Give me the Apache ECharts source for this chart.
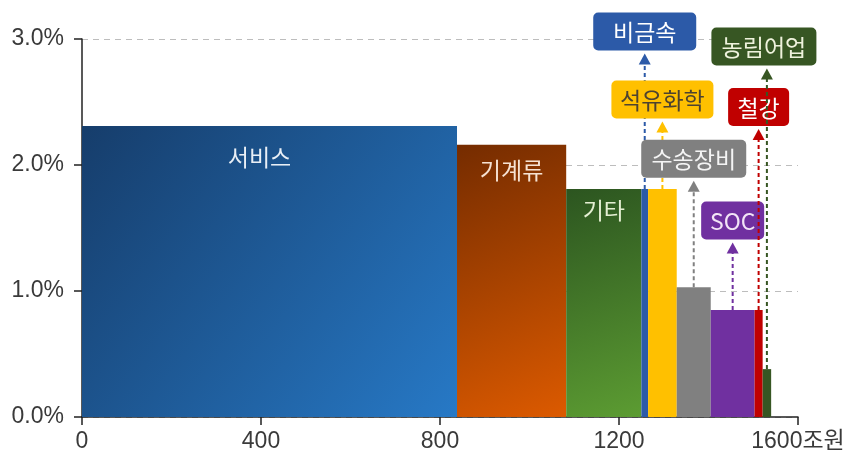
<!DOCTYPE html>
<html>
<head>
<meta charset="utf-8">
<script src="https://cdn.jsdelivr.net/npm/echarts@6/dist/echarts.min.js"></script>
<style>
  html, body { margin: 0; padding: 0; background: #fff; }
  #chart { width: 853px; height: 462px; }
</style>
</head>
<body>
<div id="chart"></div>
<script>
// 업종별 규모(조원)와 비율(%)
const categories = ['서비스', '기계류', '기타', '비금속', '석유화학', '수송장비', 'SOC', '철강', '농림어업'];
const sizes = [838, 244, 168, 15, 64, 76, 98, 18, 19];
const rates = [2.31, 2.16, 1.81, 1.81, 1.81, 1.03, 0.85, 0.85, 0.38];
const xTicks = [0, 400, 800, 1200, 1600];
const yTicks = [0, 1, 2, 3];

const G = echarts.graphic.LinearGradient;
const fills = [
  new G(0, 0, 1, 1, [{ offset: 0, color: '#163d6b' }, { offset: 1, color: '#2779c6' }]),
  new G(0, 0, 1, 1, [{ offset: 0, color: '#752c00' }, { offset: 1, color: '#dc5a00' }]),
  new G(0, 0, 1, 1, [{ offset: 0, color: '#2c5520' }, { offset: 1, color: '#5c9c32' }]),
  '#2c5aa8', '#ffc000', '#808080', '#7030a0', '#c00000', '#375623'
];

// 막대 안쪽 라벨
const inner = {
  0: { dx: -10, dy: 31, color: '#e9eff6' },
  1: { dx: 0, dy: 25, color: '#f6e2d2' },
  2: { dx: 0, dy: 21, color: '#e4efd2' }
};
// 말풍선 라벨 (level: 상자 중심 높이, % 단위)
const callouts = {
  3: { level: 3.06, w: 103, color: '#2c5aa8', text: '#ffffff' },
  4: { level: 2.52, w: 102, color: '#ffc000', text: '#4d4330' },
  5: { level: 2.05, w: 105, color: '#808080', text: '#f4f4f4' },
  6: { level: 1.56, w: 63, color: '#7030a0', text: '#f2e4f6' },
  7: { level: 2.46, w: 61, color: '#c00000', text: '#ffffff' },
  8: { level: 2.94, w: 105, color: '#375623', text: '#eef2dc', dx: -3 }
};

const starts = [];
sizes.reduce((acc, s) => { starts.push(acc); return acc + s; }, 0);
const data = categories.map((c, i) => [starts[i], sizes[i], rates[i], i]);

const FONT = '23px "Noto Sans CJK KR", "Liberation Sans", sans-serif';

function renderBar(params, api) {
  const i = api.value(3);
  const p0 = api.coord([api.value(0), api.value(2)]);
  const p1 = api.coord([api.value(0) + api.value(1), 0]);
  const children = [{
    type: 'rect',
    shape: { x: p0[0], y: p0[1], width: p1[0] - p0[0], height: p1[1] - p0[1] },
    style: { fill: fills[i] }
  }];
  const lb = inner[i];
  if (lb) {
    children.push({
      type: 'text',
      style: {
        text: categories[i], x: (p0[0] + p1[0]) / 2 + lb.dx, y: p0[1] + lb.dy,
        fill: lb.color, font: FONT, align: 'center', verticalAlign: 'middle'
      }
    });
  }
  return { type: 'group', children: children };
}

function renderCallout(params, api) {
  const i = api.value(3);
  const c = callouts[i];
  if (!c) return null;
  const p0 = api.coord([api.value(0), api.value(2)]);
  const p1 = api.coord([api.value(0) + api.value(1), 0]);
  const cx = (p0[0] + p1[0]) / 2;
  const cy = api.coord([0, c.level])[1];
  const bx = cx + (c.dx || 0);
  const h = 38;
  const bottom = cy + h / 2;
  return {
    type: 'group',
    children: [
      {
        type: 'line',
        shape: { x1: cx, y1: p0[1], x2: cx, y2: bottom + 10 },
        style: { stroke: c.color, lineWidth: 2, lineDash: [4, 3] }
      },
      {
        type: 'polygon',
        shape: { points: [[cx, bottom + 3], [cx - 6, bottom + 14], [cx + 6, bottom + 14]] },
        style: { fill: c.color }
      },
      {
        type: 'rect',
        shape: { x: bx - c.w / 2, y: cy - h / 2, width: c.w, height: h, r: 5 },
        style: { fill: c.color }
      },
      {
        type: 'text',
        style: {
          text: categories[i], x: bx, y: cy + 1, fill: c.text, font: FONT,
          align: 'center', verticalAlign: 'middle'
        }
      }
    ]
  };
}

const chart = echarts.init(document.getElementById('chart'));
chart.setOption({
  animation: false,
  grid: { left: 82, right: 55, top: 39, bottom: 45 },
  xAxis: {
    type: 'value', min: xTicks[0], max: xTicks[xTicks.length - 1], interval: 400,
    axisLine: { lineStyle: { color: '#222', width: 1.5 } },
    axisTick: { show: true, length: 8, lineStyle: { color: '#222', width: 1.5 } },
    axisLabel: {
      margin: 13, color: '#3a3a3a',
      fontSize: 23, fontFamily: '"Liberation Sans", "Noto Sans CJK KR", sans-serif',
      formatter: v => v === xTicks[xTicks.length - 1] ? v + '조원' : String(v)
    },
    splitLine: { show: false }
  },
  yAxis: {
    type: 'value', min: yTicks[0], max: yTicks[yTicks.length - 1], interval: 1,
    axisLine: { show: true, lineStyle: { color: '#222', width: 1.5 } },
    axisTick: { show: true, length: 8, lineStyle: { color: '#222', width: 1.5 } },
    axisLabel: {
      margin: 18, color: '#3a3a3a',
      fontSize: 23, fontFamily: '"Liberation Sans", sans-serif',
      formatter: v => v.toFixed(1) + '%'
    },
    splitLine: { show: true, lineStyle: { color: '#bdbdbd', type: [6, 5], width: 1 } }
  },
  series: [
    { type: 'custom', renderItem: renderBar, data: data, encode: { x: [0, 1], y: 2 }, z: 2 },
    { type: 'custom', renderItem: renderCallout, data: data, encode: { x: [0, 1], y: 2 }, z: 3 }
  ]
});
</script>
</body>
</html>
